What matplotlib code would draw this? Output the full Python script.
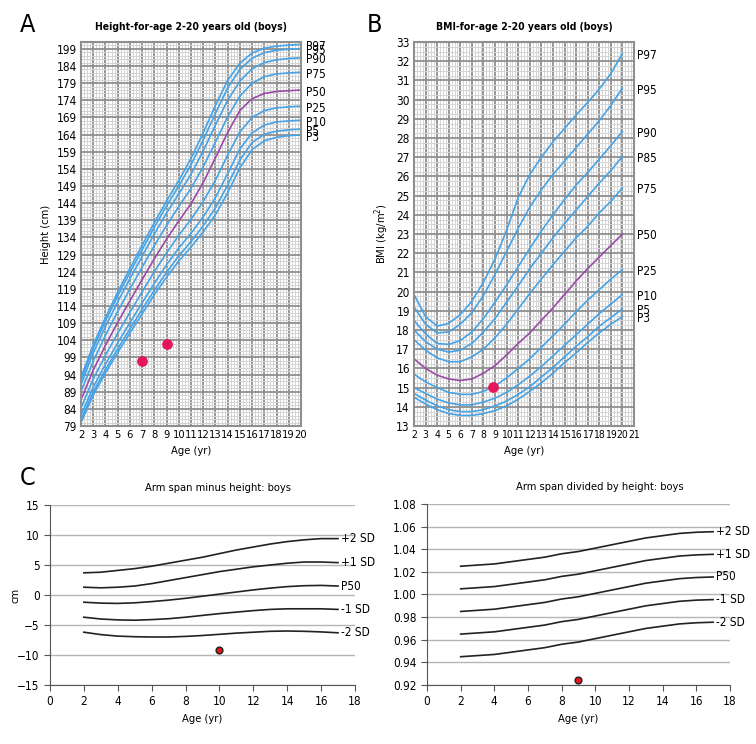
import matplotlib
matplotlib.use("Agg")
import matplotlib.pyplot as plt
from matplotlib.ticker import MultipleLocator, FormatStrFormatter

plt.rcParams['font.family'] = ['DejaVu Sans']
plt.rcParams['font.stretch'] = 'condensed'

# ---- Panel A: height-for-age, boys (cm) ----
ages_a = list(range(2, 21))
h_p3 = [80.0, 88.0, 94.4, 100.4, 106.1, 111.7, 117.3, 122.4, 127.1, 131.2, 135.6, 140.6, 147.0, 154.3, 159.6, 162.2, 163.2, 163.7, 163.9]
h_p5 = [80.8, 88.9, 95.4, 101.5, 107.3, 113.0, 118.6, 123.8, 128.6, 132.8, 137.4, 142.6, 149.3, 156.6, 161.7, 164.1, 165.0, 165.4, 165.6]
h_p10 = [82.1, 90.3, 97.0, 103.2, 109.1, 114.9, 120.6, 126.0, 130.9, 135.2, 140.0, 145.6, 152.6, 159.8, 164.5, 166.8, 167.7, 168.0, 168.2]
h_p25 = [84.2, 92.7, 99.6, 106.0, 112.1, 118.1, 124.0, 129.5, 134.6, 139.3, 144.5, 150.7, 158.0, 164.8, 169.0, 171.0, 171.8, 172.1, 172.3]
h_p50 = [86.6, 95.3, 102.5, 109.2, 115.5, 121.7, 127.8, 133.5, 138.8, 143.8, 150.0, 157.2, 164.6, 171.0, 174.5, 176.0, 176.6, 176.8, 177.0]
h_p75 = [89.0, 97.9, 105.4, 112.4, 118.9, 125.3, 131.6, 137.5, 143.0, 148.3, 154.6, 161.8, 169.2, 175.2, 179.0, 180.9, 181.7, 182.0, 182.2]
h_p90 = [91.1, 100.3, 108.0, 115.2, 121.9, 128.5, 135.0, 141.1, 146.7, 152.4, 159.2, 166.8, 174.0, 179.6, 183.2, 185.0, 185.8, 186.2, 186.4]
h_p95 = [92.4, 101.7, 109.6, 116.9, 123.7, 130.4, 137.0, 143.2, 149.0, 155.2, 162.4, 170.2, 177.6, 183.0, 186.3, 187.9, 188.6, 188.9, 189.1]
h_p97 = [93.2, 102.6, 110.6, 118.0, 124.9, 131.7, 138.3, 144.6, 150.6, 157.0, 164.5, 172.5, 179.8, 184.8, 187.8, 189.2, 189.8, 190.1, 190.3]
height_curves = [("P97", h_p97), ("P95", h_p95), ("P90", h_p90), ("P75", h_p75), ("P50", h_p50),
                 ("P25", h_p25), ("P10", h_p10), ("P5", h_p5), ("P3", h_p3)]
height_ticks = list(range(79, 190, 5))
height_ticklabels = [str(v) for v in range(79, 185, 5)] + ["199"]
patient_age_a = [7, 9]
patient_height = [98, 103]

# ---- Panel B: BMI-for-age, boys ----
ages_b = list(range(2, 21))
b_p3 = [14.5, 14.15, 13.85, 13.65, 13.55, 13.55, 13.65, 13.8, 14.05, 14.4, 14.8, 15.25, 15.75, 16.3, 16.8, 17.35, 17.85, 18.3, 18.7]
b_p5 = [14.7, 14.35, 14.05, 13.85, 13.75, 13.75, 13.85, 14.05, 14.3, 14.65, 15.05, 15.55, 16.05, 16.6, 17.15, 17.65, 18.2, 18.65, 19.1]
b_p10 = [15.0, 14.7, 14.4, 14.2, 14.1, 14.1, 14.25, 14.45, 14.75, 15.15, 15.6, 16.1, 16.65, 17.2, 17.75, 18.3, 18.85, 19.35, 19.85]
b_p25 = [15.7, 15.3, 15.0, 14.75, 14.65, 14.65, 14.8, 15.1, 15.5, 16.0, 16.5, 17.1, 17.7, 18.3, 18.95, 19.55, 20.1, 20.65, 21.15]
b_p50 = [16.5, 16.0, 15.65, 15.45, 15.37, 15.45, 15.75, 16.15, 16.7, 17.3, 17.85, 18.5, 19.15, 19.85, 20.55, 21.2, 21.8, 22.4, 23.0]
b_p75 = [17.5, 16.95, 16.55, 16.35, 16.35, 16.6, 17.0, 17.6, 18.3, 19.1, 19.9, 20.65, 21.4, 22.1, 22.8, 23.4, 24.1, 24.7, 25.4]
b_p85 = [18.0, 17.4, 17.0, 16.85, 16.95, 17.3, 17.9, 18.6, 19.45, 20.3, 21.2, 22.0, 22.8, 23.55, 24.25, 24.95, 25.65, 26.3, 27.05]
b_p90 = [18.5, 17.8, 17.3, 17.25, 17.45, 17.9, 18.6, 19.45, 20.35, 21.3, 22.25, 23.15, 24.0, 24.8, 25.55, 26.2, 26.9, 27.6, 28.35]
b_p95 = [19.2, 18.3, 17.85, 17.9, 18.3, 18.9, 19.8, 20.9, 22.1, 23.3, 24.4, 25.3, 26.1, 26.8, 27.5, 28.2, 28.9, 29.7, 30.6]
b_p97 = [19.85, 18.7, 18.2, 18.35, 18.8, 19.5, 20.5, 21.7, 23.2, 24.9, 26.1, 27.0, 27.8, 28.5, 29.2, 29.85, 30.55, 31.35, 32.4]
bmi_curves = [("P97", b_p97), ("P95", b_p95), ("P90", b_p90), ("P85", b_p85), ("P75", b_p75),
              ("P50", b_p50), ("P25", b_p25), ("P10", b_p10), ("P5", b_p5), ("P3", b_p3)]
patient_age_b = [8.85]
patient_bmi = [15.05]

# ---- Panel C: arm span, boys ----
ages_c = list(range(2, 18))
diff_p2 = [3.7, 3.8, 4.1, 4.4, 4.8, 5.3, 5.8, 6.3, 6.9, 7.5, 8.0, 8.5, 8.9, 9.2, 9.4, 9.4]
diff_p1 = [1.3, 1.2, 1.3, 1.5, 1.9, 2.4, 2.9, 3.4, 3.9, 4.3, 4.7, 5.0, 5.3, 5.5, 5.5, 5.4]
diff_p50 = [-1.2, -1.35, -1.4, -1.3, -1.1, -0.85, -0.55, -0.2, 0.15, 0.5, 0.85, 1.15, 1.4, 1.55, 1.6, 1.5]
diff_m1 = [-3.7, -4.0, -4.15, -4.2, -4.1, -3.95, -3.7, -3.4, -3.1, -2.85, -2.6, -2.4, -2.3, -2.3, -2.3, -2.4]
diff_m2 = [-6.2, -6.6, -6.85, -6.95, -7.0, -7.0, -6.9, -6.75, -6.55, -6.35, -6.2, -6.05, -6.0, -6.05, -6.15, -6.3]
diff_curves = [("+2 SD", diff_p2), ("+1 SD", diff_p1), ("P50", diff_p50), ("-1 SD", diff_m1), ("-2 SD", diff_m2)]
patient_diff = (10, -9.2)

ratio_p2 = [1.025, 1.026, 1.027, 1.029, 1.031, 1.033, 1.036, 1.038, 1.041, 1.044, 1.047, 1.050, 1.052, 1.054, 1.055, 1.0555]
ratio_p1 = [1.005, 1.006, 1.007, 1.009, 1.011, 1.013, 1.016, 1.018, 1.021, 1.024, 1.027, 1.030, 1.032, 1.034, 1.035, 1.0355]
ratio_p50 = [0.985, 0.986, 0.987, 0.989, 0.991, 0.993, 0.996, 0.998, 1.001, 1.004, 1.007, 1.010, 1.012, 1.014, 1.015, 1.0155]
ratio_m1 = [0.965, 0.966, 0.967, 0.969, 0.971, 0.973, 0.976, 0.978, 0.981, 0.984, 0.987, 0.990, 0.992, 0.994, 0.995, 0.9955]
ratio_m2 = [0.945, 0.946, 0.947, 0.949, 0.951, 0.953, 0.956, 0.958, 0.961, 0.964, 0.967, 0.970, 0.972, 0.974, 0.975, 0.9755]
ratio_curves = [("+2 SD", ratio_p2), ("+1 SD", ratio_p1), ("P50", ratio_p50), ("-1 SD", ratio_m1), ("-2 SD", ratio_m2)]
patient_ratio = (9, 0.9245)

BLUE = '#45a3e6'
PURPLE = '#9b4aa8'
DOT = '#e3175a'
GRID_MAJOR = '#8f8f8f'
GRID_MINOR = '#d4d4d4'

fig = plt.figure(figsize=(7.56, 7.44), dpi=100)


def chart_grid(ax, xsize):
    ax.grid(which='major', color=GRID_MAJOR, lw=1.3)
    ax.grid(which='minor', color=GRID_MINOR, lw=0.7)
    ax.set_axisbelow(True)
    for s in ax.spines.values():
        s.set_color(GRID_MAJOR)
        s.set_linewidth(1.5)
    ax.tick_params(which='both', length=0, pad=3)
    ax.tick_params(axis='y', labelsize=8.5)
    ax.tick_params(axis='x', labelsize=xsize)


# Panel A
axA = fig.add_axes([0.1071, 0.4274, 0.2910, 0.5161])
for name, vals in height_curves:
    axA.plot(ages_a, vals, color=PURPLE if name == "P50" else BLUE, lw=1.2)
    axA.text(20.4, vals[-1] - 0.6, name, fontsize=8.5, va='center', ha='left')
axA.scatter(patient_age_a, patient_height, s=45, color=DOT, zorder=5)
axA.set_xlim(2, 20)
axA.set_ylim(79, 191)
axA.set_xticks(ages_a)
axA.set_yticks(height_ticks)
axA.set_yticklabels(height_ticklabels)
axA.xaxis.set_minor_locator(MultipleLocator(0.25))
axA.yaxis.set_minor_locator(MultipleLocator(1))
chart_grid(axA, 8)
axA.set_title("Height-for-age 2-20 years old (boys)", fontsize=7.5, fontweight='bold', pad=9)
axA.set_xlabel("Age (yr)", fontsize=8)
axA.set_ylabel("Height (cm)", fontsize=8)

# Panel B
axB = fig.add_axes([0.5476, 0.4274, 0.2910, 0.5161])
for name, vals in bmi_curves:
    axB.plot(ages_b, vals, color=PURPLE if name == "P50" else BLUE, lw=1.2)
    axB.text(21.3, vals[-1] - 0.1, name, fontsize=8.5, va='center', ha='left')
axB.scatter(patient_age_b, patient_bmi, s=45, color=DOT, zorder=5)
axB.set_xlim(2, 21)
axB.set_ylim(13, 33)
axB.set_xticks(list(range(2, 22)))
axB.set_yticks(list(range(13, 34)))
axB.xaxis.set_minor_locator(MultipleLocator(0.25))
axB.yaxis.set_minor_locator(MultipleLocator(0.25))
chart_grid(axB, 7.5)
axB.set_title("BMI-for-age 2-20 years old (boys)", fontsize=7.5, fontweight='bold', pad=9)
axB.set_xlabel("Age (yr)", fontsize=8)
axB.set_ylabel("BMI (kg/m$^2$)", fontsize=8)


def sd_panel(ax, curves, ylim, ystep):
    for name, vals in curves:
        ax.plot(ages_c, vals, color='#222222', lw=1.2)
        ax.text(17.15, vals[-1], name, fontsize=8.5, va='center', ha='left')
    ax.set_xlim(0, 18)
    ax.set_ylim(*ylim)
    ax.set_xticks(list(range(0, 19, 2)))
    ax.yaxis.set_major_locator(MultipleLocator(ystep))
    ax.grid(axis='y', color='#b5b5b5', lw=1)
    ax.set_axisbelow(True)
    for s in ('top', 'right'):
        ax.spines[s].set_visible(False)
    for s in ('left', 'bottom'):
        ax.spines[s].set_color('#555555')
    ax.tick_params(length=4, color='#555555', labelsize=8.5)
    ax.set_xlabel("Age (yr)", fontsize=8)


axC1 = fig.add_axes([0.0661, 0.0793, 0.4034, 0.2419])
sd_panel(axC1, diff_curves, (-15, 15), 5)
axC1.scatter([patient_diff[0]], [patient_diff[1]], s=24, color='#e3141b', edgecolor='#222222', lw=1, zorder=5)
axC1.set_ylabel("cm", fontsize=8)
axC1.yaxis.set_label_coords(-0.095, 0.5)
axC1.set_title("Arm span minus height: boys", fontsize=8, pad=10, x=0.55)

axC2 = fig.add_axes([0.5648, 0.0793, 0.4008, 0.2433])
sd_panel(axC2, ratio_curves, (0.92, 1.08), 0.02)
axC2.yaxis.set_major_formatter(FormatStrFormatter('%.2f'))
axC2.scatter([patient_ratio[0]], [patient_ratio[1]], s=24, color='#e3141b', edgecolor='#222222', lw=1, zorder=5)
axC2.set_title("Arm span divided by height: boys", fontsize=8, pad=10, x=0.57)

fig.text(0.026, 0.983, "A", fontsize=18, va='top')
fig.text(0.485, 0.983, "B", fontsize=18, va='top')
fig.text(0.026, 0.374, "C", fontsize=18, va='top')

fig.savefig("out.png", dpi=100)
